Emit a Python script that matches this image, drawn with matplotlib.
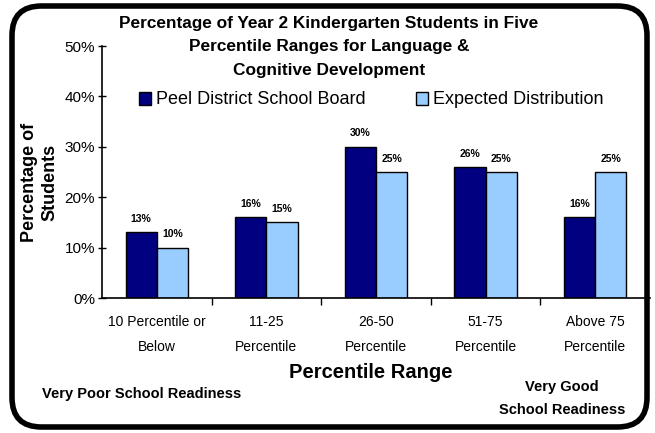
import matplotlib
matplotlib.use("Agg")
import matplotlib.pyplot as plt
from matplotlib.patches import FancyBboxPatch
from matplotlib.ticker import PercentFormatter, FixedLocator
import numpy as np

plt.rcParams['font.family'] = ['Liberation Sans', 'DejaVu Sans']

categories = ["10 Percentile or\nBelow", "11-25\nPercentile", "26-50\nPercentile",
              "51-75\nPercentile", "Above 75\nPercentile"]
peel = [13, 16, 30, 26, 16]
expected = [10, 15, 25, 25, 25]
series_names = ["Peel District School Board", "Expected Distribution"]
yticks = [0, 10, 20, 30, 40, 50]

fig = plt.figure(figsize=(6.55, 4.33), dpi=100)
ax = fig.add_axes([102/655, 1 - 298/433, (650 - 102)/655, (298 - 46)/433])

x = np.arange(len(categories))
w = 0.285
b1 = ax.bar(x - w/2, peel, w, color="#000080", edgecolor="black", linewidth=1.0,
            label=series_names[0])
b2 = ax.bar(x + w/2, expected, w, color="#99CCFF", edgecolor="black", linewidth=1.0,
            label=series_names[1])

for bars, vals in ((b1, peel), (b2, expected)):
    for r, v in zip(bars, vals):
        ax.annotate(f"{v}%", (r.get_x() + r.get_width()/2, v), xytext=(0, 6),
                    textcoords="offset points", ha="center", va="bottom",
                    fontsize=7.5, fontweight="bold")

ax.set_xlim(-0.5, len(categories) - 0.5)
ax.set_ylim(0, 50)
ax.yaxis.set_major_locator(FixedLocator(yticks))
ax.yaxis.set_major_formatter(PercentFormatter(decimals=0))
ax.tick_params(axis="y", direction="inout", length=6, width=1, labelsize=11, pad=2)
ax.set_xticks(x)
ax.set_xticklabels(categories, fontsize=10, linespacing=2.0)
ax.tick_params(axis="x", length=0, pad=12)
ax.set_xticks(np.arange(len(categories) - 1) + 0.5, minor=True)
ax.tick_params(axis="x", which="minor", direction="out", length=5, width=1)

for s in ("top", "right"):
    ax.spines[s].set_visible(False)
for s in ("left", "bottom"):
    ax.spines[s].set_linewidth(1.2)

fig.text(40/655, 1 - 182/433, "Percentage of\nStudents", rotation=90, ha="center",
         va="center", fontsize=13, fontweight="bold", linespacing=1.25)
fig.text(371/655, 1 - 372/433, "Percentile Range", ha="center", va="center",
         fontsize=14.5, fontweight="bold")

fig.text(329/655, 1 - 47/433,
         "Percentage of Year 2 Kindergarten Students in Five\n"
         "Percentile Ranges for Language &\nCognitive Development",
         ha="center", va="center", fontsize=12.4, fontweight="bold", linespacing=1.72)

fig.text(142/655, 1 - 394/433, "Very Poor School Readiness", ha="center", va="center",
         fontsize=10.5, fontweight="bold")
fig.text(562/655, 1 - 398.5/433, "Very Good\nSchool Readiness", ha="center", va="center",
         fontsize=10.5, fontweight="bold", linespacing=1.75)

fig.legend(handles=[b1, b2], labels=series_names, loc="center",
           bbox_to_anchor=(371/655, 1 - 100/433), ncol=2, frameon=False,
           fontsize=13, handlelength=0.7, handleheight=0.7, handletextpad=0.25,
           columnspacing=2.8, borderaxespad=0)

border = FancyBboxPatch((12/655, 6/433), (647 - 12)/655, (427 - 6)/433,
                        boxstyle="round,pad=0,rounding_size=0.045",
                        transform=fig.transFigure, facecolor="none",
                        edgecolor="black", linewidth=4, zorder=10,
                        mutation_aspect=655/433)
fig.patches.append(border)

fig.savefig("out.png", dpi=100)
